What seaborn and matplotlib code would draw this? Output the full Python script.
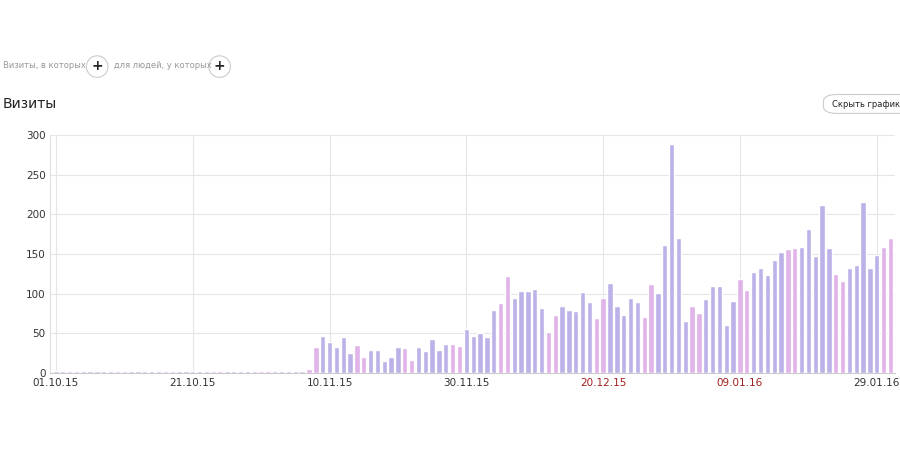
import numpy as np
import pandas as pd
import matplotlib.pyplot as plt
import seaborn as sns
from matplotlib.patches import FancyBboxPatch, Ellipse

# visits per day, 01.10.15 .. 31.01.16
visits = [2] * 37 + [5,
    33, 47, 39, 33, 46, 25, 35, 20, 29, 29, 15, 20, 33, 32, 16,
    33, 28, 43, 29, 37, 36, 34, 55, 47, 51, 46, 80, 88, 122,
    94, 104, 104, 106, 82, 52, 73, 84, 80, 78, 102, 90, 70, 95,
    113, 84, 73, 94, 89, 71, 112, 101, 162, 289, 170, 66, 84, 76,
    93, 110, 110, 60, 91, 119, 105, 127, 132, 124, 142, 153, 156, 158,
    159, 182, 148, 212, 158, 125, 116, 132, 136, 215, 133, 149, 159, 170]
dates = pd.date_range("2015-10-01", periods=len(visits), freq="D")
tick_labels = ["01.10.15", "21.10.15", "10.11.15", "30.11.15", "20.12.15", "09.01.16", "29.01.16"]

df = pd.DataFrame({"day": np.arange(len(visits)), "visits": visits,
                   "weekend": dates.dayofweek >= 5})

sns.set_style("white")
plt.rcParams['font.family'] = ['DejaVu Sans']
fig = plt.figure(figsize=(9, 4.5), dpi=100)
ax = fig.add_axes([0.056, 0.171, 0.938, 0.529])

sns.barplot(data=df, x="day", y="visits", hue="weekend", native_scale=True,
            palette={False: "#b8a9f0", True: "#e6aaf2"}, dodge=False,
            width=0.78, legend=False, ax=ax, zorder=3)

ax.set_xlim(-0.8, len(visits) - 0.4)
ax.set_ylim(0, 300)
ax.set_yticks(range(0, 301, 50))
tick_pos = [i for i, d in enumerate(dates) if d.strftime("%d.%m.%y") in tick_labels]
ax.set_xticks(tick_pos)
ax.set_xticklabels(tick_labels)
ax.tick_params(axis="both", labelsize=7.5, length=0, colors="#333333")
for lab in ax.get_xticklabels():
    if lab.get_text() in ("20.12.15", "09.01.16"):
        lab.set_color("#a02020")
ax.grid(True, color="#e6e6e6", linewidth=0.8, zorder=0)
ax.set_xlabel("")
ax.set_ylabel("")
for s in ["top", "right"]:
    ax.spines[s].set_visible(False)
ax.spines["left"].set_color("#e0e0e0")
ax.spines["bottom"].set_color("#cccccc")

# header
fig.text(0.003, 0.855, "Визиты, в которых", fontsize=6, color="#999999", va="center")
fig.text(0.127, 0.855, "для людей, у которых", fontsize=6, color="#999999", va="center")
for cx in (0.108, 0.244):
    fig.patches.append(Ellipse((cx, 0.852), 0.024, 0.048, transform=fig.transFigure,
                               fill=False, ec="#cccccc", lw=0.8))
    fig.text(cx, 0.853, "+", fontsize=10, ha="center", va="center", weight="bold")
fig.text(0.003, 0.77, "Визиты", fontsize=10, color="#222222", va="center")
fig.patches.append(FancyBboxPatch((0.915, 0.748), 0.1, 0.042, transform=fig.transFigure,
                                  boxstyle="round,pad=0,rounding_size=0.015",
                                  fc="white", ec="#cccccc", lw=0.8))
fig.text(0.925, 0.768, "Скрыть график", fontsize=6, color="#222222", va="center")

fig.savefig("out.png", dpi=100)
